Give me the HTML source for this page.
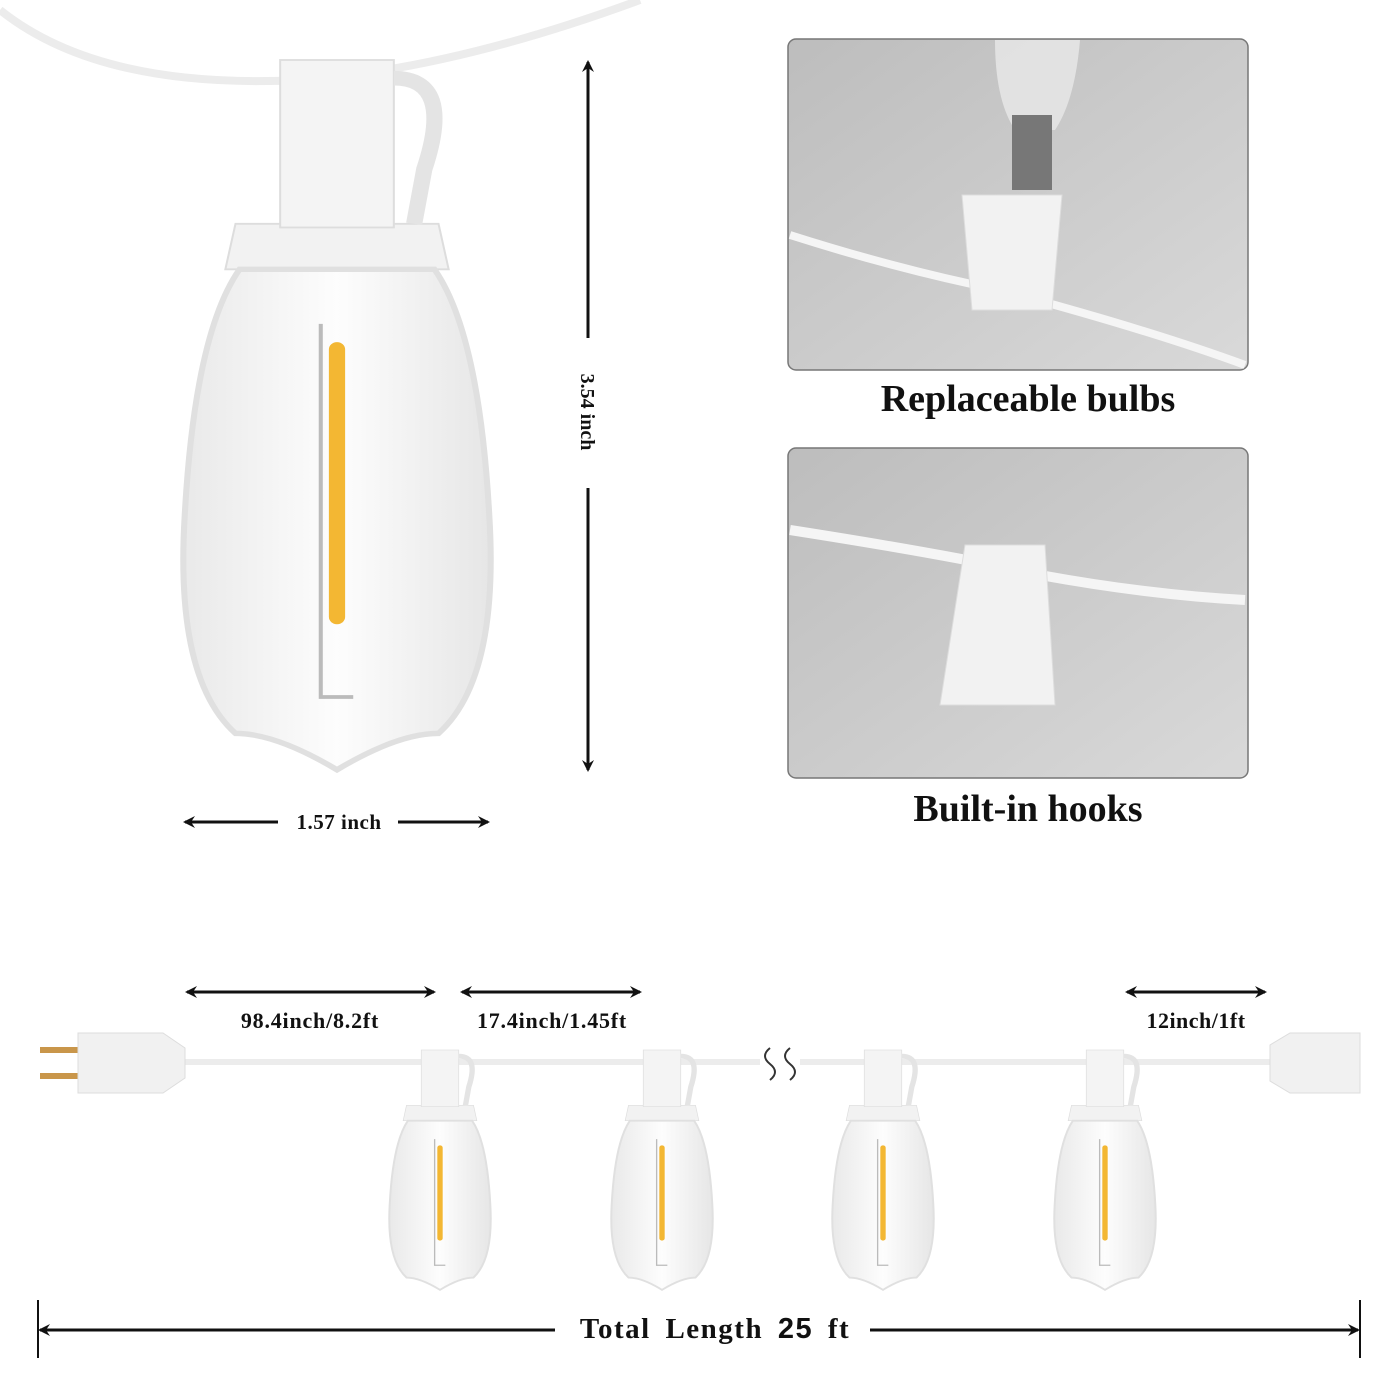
<!DOCTYPE html>
<html><head><meta charset="utf-8"><style>
body{margin:0;background:#fff;width:1400px;height:1400px;overflow:hidden}
svg{display:block}
text{font-family:"Liberation Serif",serif;font-weight:bold;fill:#111}
</style></head><body>
<svg width="1400" height="1400" viewBox="0 0 1400 1400">
<defs>
<marker id="ah" markerWidth="12" markerHeight="12" refX="10" refY="6" orient="auto-start-reverse" markerUnits="userSpaceOnUse"><path d="M0,0 L12,6 L0,12 L4,6 Z" fill="#111"/></marker>
<linearGradient id="pg" x1="0" y1="0" x2="1" y2="1"><stop offset="0" stop-color="#bdbdbd"/><stop offset="1" stop-color="#d9d9d9"/></linearGradient>
<linearGradient id="bg" x1="0" y1="0" x2="1" y2="0"><stop offset="0" stop-color="#e9e9e9"/><stop offset="0.5" stop-color="#fdfdfd"/><stop offset="1" stop-color="#e6e6e6"/></linearGradient>
<g id="bulb">
<path d="M-50,-110 L50,-110 L55,-85 L-55,-85 Z" fill="#f2f2f2" stroke="#ddd"/>
<rect x="-28" y="-200" width="56" height="92" fill="#f4f4f4" stroke="#ddd"/>
<path d="M28,-190 q30,0 15,50 l-5,30" fill="none" stroke="#e4e4e4" stroke-width="8"/>
<path d="M-48,-85 L48,-85 Q70,-50 75,50 Q80,140 50,170 Q30,170 0,190 Q-30,170 -50,170 Q-80,140 -75,50 Q-70,-50 -48,-85 Z" fill="url(#bg)" stroke="#e0e0e0" stroke-width="3"/>
<rect x="-4" y="-45" width="8" height="155" rx="4" fill="#f3b733"/>
<path d="M-8,-55 V150 H8" fill="none" stroke="#bbb" stroke-width="2"/>
</g>
</defs>

<path d="M0,10 Q100,90 300,80 Q450,70 640,0" fill="none" stroke="#ececec" stroke-width="8"/>
<g transform="translate(337,424) scale(2.03,1.82)"><use href="#bulb"/></g>

<line x1="588" y1="62" x2="588" y2="338" stroke="#111" stroke-width="3" marker-start="url(#ah)"/>
<line x1="588" y1="488" x2="588" y2="770" stroke="#111" stroke-width="3" marker-end="url(#ah)"/>
<text x="588" y="412" font-size="20" text-anchor="middle" transform="rotate(90 588 412)" dy="7">3.54 inch</text>
<line x1="185" y1="822" x2="278" y2="822" stroke="#111" stroke-width="3" marker-start="url(#ah)"/>
<line x1="398" y1="822" x2="488" y2="822" stroke="#111" stroke-width="3" marker-end="url(#ah)"/>
<text x="339" y="829" font-size="21" text-anchor="middle" letter-spacing="0.5">1.57 inch</text>

<rect x="788" y="39" width="460" height="331" rx="8" fill="url(#pg)" stroke="#777" stroke-width="1.5"/>
<path d="M790,235 Q900,270 1000,290 Q1150,330 1245,365" fill="none" stroke="#f5f5f5" stroke-width="8"/>
<path d="M962,195 h100 l-10,115 h-80 z" fill="#f2f2f2" stroke="#ddd"/>
<path d="M995,40 h85 q-5,60 -25,90 h-40 q-20,-30 -20,-90z" fill="#e8e8e8" opacity="0.8"/>
<rect x="1012" y="115" width="40" height="75" fill="#777"/>
<text x="1028" y="411" font-size="38" text-anchor="middle">Replaceable bulbs</text>

<rect x="788" y="448" width="460" height="330" rx="8" fill="url(#pg)" stroke="#777" stroke-width="1.5"/>
<path d="M790,530 Q950,555 1040,575 Q1150,595 1245,600" fill="none" stroke="#f5f5f5" stroke-width="10"/>
<path d="M965,545 h80 l10,160 h-115 z" fill="#f2f2f2" stroke="#ddd"/>
<text x="1028" y="821" font-size="38" text-anchor="middle">Built-in hooks</text>

<g stroke="#111" stroke-width="3">
<line x1="187" y1="992" x2="434" y2="992" marker-start="url(#ah)" marker-end="url(#ah)"/>
<line x1="462" y1="992" x2="640" y2="992" marker-start="url(#ah)" marker-end="url(#ah)"/>
<line x1="1127" y1="992" x2="1265" y2="992" marker-start="url(#ah)" marker-end="url(#ah)"/>
</g>
<text x="310" y="1028" font-size="22" text-anchor="middle" letter-spacing="0.8">98.4inch/8.2ft</text>
<text x="552" y="1028" font-size="22" text-anchor="middle" letter-spacing="0.8">17.4inch/1.45ft</text>
<text x="1196" y="1028" font-size="22" text-anchor="middle" letter-spacing="0.5">12inch/1ft</text>

<line x1="180" y1="1062" x2="760" y2="1062" stroke="#ececec" stroke-width="6"/>
<line x1="800" y1="1062" x2="1272" y2="1062" stroke="#ececec" stroke-width="6"/>
<path d="M770,1048 q-10,8 0,16 q10,8 0,16 M790,1048 q-10,8 0,16 q10,8 0,16" fill="none" stroke="#333" stroke-width="2"/>
<rect x="40" y="1047" width="40" height="6" fill="#c9964a"/>
<rect x="40" y="1073" width="40" height="6" fill="#c9964a"/>
<path d="M78,1033 h85 l22,15 v30 l-22,15 h-85 z" fill="#f1f1f1" stroke="#ddd"/>
<path d="M1270,1045 l20,-12 h70 v60 h-70 l-20,-12 z" fill="#f1f1f1" stroke="#ddd"/>

<g transform="translate(440,1173) scale(0.67,0.615)"><use href="#bulb"/></g>
<g transform="translate(662,1173) scale(0.67,0.615)"><use href="#bulb"/></g>
<g transform="translate(883,1173) scale(0.67,0.615)"><use href="#bulb"/></g>
<g transform="translate(1105,1173) scale(0.67,0.615)"><use href="#bulb"/></g>

<line x1="38" y1="1300" x2="38" y2="1358" stroke="#111" stroke-width="2"/>
<line x1="1360" y1="1300" x2="1360" y2="1358" stroke="#111" stroke-width="2"/>
<line x1="40" y1="1330" x2="555" y2="1330" stroke="#111" stroke-width="3" marker-start="url(#ah)"/>
<line x1="870" y1="1330" x2="1358" y2="1330" stroke="#111" stroke-width="3" marker-end="url(#ah)"/>
<text x="715" y="1338" font-size="29" text-anchor="middle" letter-spacing="1.5" word-spacing="6">Total Length <tspan font-family="Liberation Sans,sans-serif">25</tspan> ft</text>
</svg>
</body></html>
